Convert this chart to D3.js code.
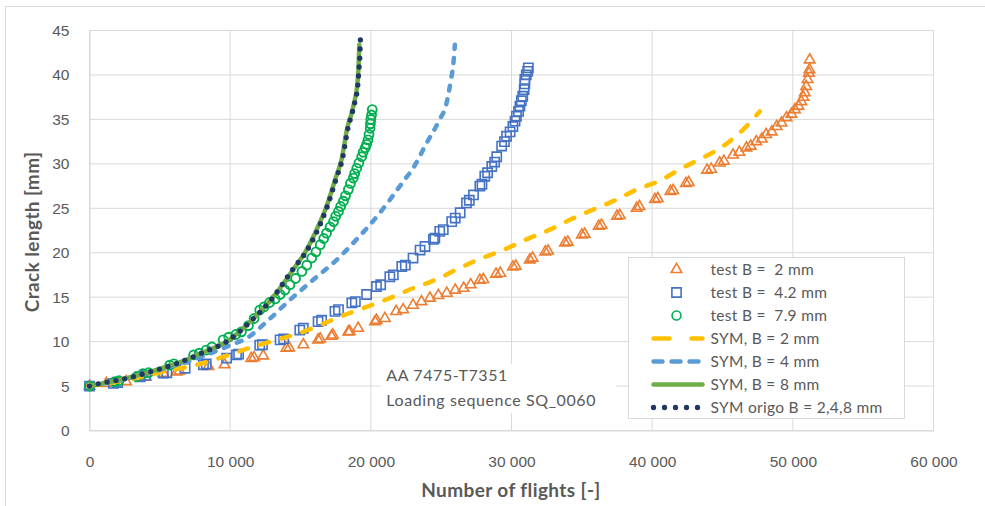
<!DOCTYPE html>
<html>
<head>
<meta charset="utf-8">
<script src="https://cdn.jsdelivr.net/npm/d3@7"></script>
<style>
  body { margin: 0; background: #fff; }
  svg { font-family: Lato, "Open Sans", sans-serif; }
  .grid line { stroke: #d9d9d9; stroke-width: 1; }
  .tick text { fill: #595959; font-size: 15.5px; }
</style>
</head>
<body>
<div id="chart"></div>
<script>
// values: [flights, crack length mm]
var testB2 = [[0,5.0],[1200,5.3],[2600,5.5],[4000,6.0],[5250,6.45],[6200,6.6],[6400,6.7],[8450,7.2],[9600,7.4],
  [11500,8.1],[11700,8.2],[12350,8.4],[14000,9.25],[14200,9.3],[15200,9.65],[16250,10.2],[16400,10.3],[17200,10.6],
  [17300,10.75],[18400,11.1],[18500,11.15],[19100,11.5],[20300,12.25],[20400,12.4],[21000,12.6],[21800,13.4],
  [22300,13.6],[23000,14.1],[23600,14.5],[24200,14.9],[24800,15.2],[25400,15.45],[26000,15.8],[26600,16.0],
  [27100,16.4],[27750,16.9],[28000,17.0],[28900,17.6],[29200,17.7],[30100,18.4],[30300,18.5],[31300,19.2],
  [31500,19.4],[32400,20.1],[32600,20.2],[33800,21.1],[34000,21.2],[35000,22.0],[35200,22.1],[36200,23.0],
  [36400,23.1],[37500,24.1],[37700,24.2],[38900,25.0],[39100,25.2],[40200,26.0],[40400,26.1],[41300,26.9],
  [41500,27.0],[42400,27.8],[42600,27.9],[43900,29.3],[44200,29.4],[44800,30.1],[45100,30.3],[45750,31.0],
  [46200,31.3],[46700,31.8],[47000,32.0],[47400,32.5],[47800,32.8],[48100,33.3],[48500,33.6],[48850,34.2],
  [49200,34.6],[49550,35.2],[49900,35.6],[50150,36.1],[50400,36.5],[50600,37.0],[50750,37.5],[50850,38.0],
  [50950,38.7],[51050,39.5],[51150,40.2],[51180,40.6],[51200,41.7]];

var testB42 = [[0,5.0],[1700,5.3],[2000,5.4],[3600,6.05],[4000,6.2],[5250,6.45],[5500,6.5],[6800,7.0],[8100,7.4],
  [8300,7.5],[9750,8.15],[10450,8.5],[10600,8.6],[12100,9.6],[12300,9.65],[13550,10.2],[13800,10.3],[14950,11.3],
  [15200,11.5],[16250,12.25],[16500,12.4],[17450,13.4],[17700,13.6],[18650,14.35],[18900,14.5],[19700,15.3],
  [20400,16.2],[20700,16.4],[21350,17.3],[21600,17.5],[22200,18.45],[22450,18.6],[23000,19.4],[23500,20.3],
  [23850,20.7],[24450,21.5],[24550,21.65],[24900,22.4],[25150,22.6],[25750,23.5],[26000,23.9],[26350,24.5],
  [26800,25.6],[27000,25.9],[27300,26.5],[27750,27.5],[27900,27.7],[28100,28.6],[28300,29.0],[28600,29.7],
  [28800,30.2],[28950,30.8],[29300,32.0],[29500,32.5],[29650,33.1],[29900,33.6],[30100,34.2],[30250,34.8],
  [30350,35.35],[30500,35.9],[30600,36.5],[30700,37.1],[30800,37.6],[30900,38.35],[30950,39.0],[30950,39.5],
  [31050,40.0],[31150,40.4],[31200,40.8]];

var testB79 = [[0,5.0],[1800,5.5],[2100,5.6],[3350,6.05],[3800,6.4],[4200,6.5],[5700,7.35],[6000,7.5],[7400,8.5],
  [7800,8.7],[8300,9.05],[8700,9.4],[9500,10.2],[9900,10.5],[10400,10.8],[10800,11.1],[11300,11.8],[11700,12.6],
  [12100,13.55],[12400,13.9],[12800,14.4],[13200,14.8],[13550,15.3],[13900,15.8],[14250,16.4],[14650,17.1],
  [15100,17.9],[15450,18.6],[15800,19.4],[16100,20.1],[16400,20.9],[16650,21.6],[16850,22.2],[17100,22.9],
  [17350,23.5],[17500,24.1],[17700,24.65],[17850,25.2],[18050,25.8],[18200,26.4],[18400,27.1],[18550,27.8],
  [18750,28.4],[18850,28.9],[19000,29.5],[19150,30.1],[19350,30.8],[19450,31.3],[19600,31.8],[19700,32.2],
  [19800,32.7],[19870,33.3],[19950,34.0],[19970,34.5],[20000,35.0],[20050,35.5],[20100,36.1]];

var symB2 = [[0,5],[2000,5.5],[4000,6.15],[5800,6.8],[7400,7.3],[9150,8.1],[11000,9.1],[13100,10.1],[15200,11.1],
  [16600,12.0],[18040,12.95],[19700,13.9],[21360,14.9],[23000,16.0],[24680,17.0],[26210,18.2],[27750,19.3],
  [29410,20.3],[31070,21.5],[32730,22.6],[34150,23.7],[35800,24.85],[37230,25.8],[38890,27.1],[40670,28.2],
  [42090,29.5],[43620,30.7],[45050,32.0],[46470,33.85],[47650,35.9]];

var symB4 = [[0,5],[2000,5.6],[4000,6.4],[6000,7.3],[8000,8.3],[10000,9.6],[11200,10.4],[12600,12.25],
  [14250,14.7],[15900,16.95],[17570,19.2],[18990,21.5],[20650,24.5],[22300,28.0],[23000,29.5],[23970,32.35],
  [24900,35.0],[25340,36.55],[25700,39.5],[25850,41.0],[25975,43.4]];

var symB8 = [[0,5],[2000,5.65],[4300,6.6],[6300,7.6],[8100,8.8],[9750,10],[11400,12.2],[13060,15],[14480,18.1],
  [15350,20.1],[16250,22.95],[16850,25.2],[17500,28.4],[17920,30.5],[18350,34.2],[18600,35.5],[18830,37.0],
  [19030,38.8],[19130,41.0],[19180,43.4]];

var symOrigo = [[0,5],[750,5.3],[2000,5.65],[3000,6.0],[4300,6.6],[6300,7.6],[8100,8.8],[9750,10],[11400,12.2],
  [13060,15],[14480,18.2],[15400,20.1],[16330,22.95],[16900,25.2],[17550,28.4],[17970,30.5],[18400,34.2],
  [18630,35.5],[18870,37.0],[19070,38.8],[19170,41.0],[19220,42.1],[19250,43.6],[19280,44.9]];

var xTicks = [0, 10000, 20000, 30000, 40000, 50000, 60000];
var yTicks = [0, 5, 10, 15, 20, 25, 30, 35, 40, 45];
var legendNames = ["test B =  2 mm", "test B =  4.2 mm", "test B =  7.9 mm", "SYM, B = 2 mm",
  "SYM, B = 4 mm", "SYM, B = 8 mm", "SYM origo B = 2,4,8 mm"];
var noteLines = ["AA 7475-T7351", "Loading sequence SQ_0060"];

var margin = {top: 30.5, left: 89.5},
    width = 844,
    height = 400;

var svg = d3.select("#chart").append("svg")
    .attr("width", 985)
    .attr("height", 506);

// outer chart border
svg.append("rect")
    .attr("x", 5.5).attr("y", 6.5)
    .attr("width", 1000).attr("height", 520)
    .attr("fill", "none").attr("stroke", "#d9d9d9");

var g = svg.append("g")
    .attr("transform", "translate(" + margin.left + "," + margin.top + ")");

var x = d3.scaleLinear().domain([0, 60000]).range([0, width]);
var y = d3.scaleLinear().domain([0, 45]).range([height, 0]);

// gridlines
g.append("g").attr("class", "grid")
  .selectAll("line").data(yTicks).enter().append("line")
    .attr("x1", 0).attr("x2", width)
    .attr("y1", function(d) { return y(d); }).attr("y2", function(d) { return y(d); });
g.append("g").attr("class", "grid")
  .selectAll("line").data(xTicks).enter().append("line")
    .attr("y1", 0).attr("y2", height)
    .attr("x1", function(d) { return x(d); }).attr("x2", function(d) { return x(d); });

var fmt = function(d) { return d3.format(",")(d).replace(/,/g, " "); };

var xAxis = g.append("g")
    .attr("transform", "translate(0," + height + ")")
    .call(d3.axisBottom(x).tickValues(xTicks).tickFormat(fmt).tickSize(0).tickPadding(25));
xAxis.select(".domain").attr("stroke", "#d9d9d9");

var yAxis = g.append("g")
    .call(d3.axisLeft(y).tickValues(yTicks).tickSize(0).tickPadding(20));
yAxis.select(".domain").attr("stroke", "#d9d9d9");

// axis titles
svg.append("text")
    .attr("transform", "translate(39,232) rotate(-90)")
    .attr("text-anchor", "middle")
    .attr("fill", "#595959")
    .style("font-size", "19px").style("font-weight", "bold")
    .style("letter-spacing", "0.4px")
    .text("Crack length [mm]");
svg.append("text")
    .attr("x", 511).attr("y", 497)
    .attr("text-anchor", "middle")
    .attr("fill", "#595959")
    .style("font-size", "19px").style("font-weight", "bold")
    .style("letter-spacing", "0.4px")
    .text("Number of flights [-]");

// note box
var note = g.append("g");
note.append("rect")
    .attr("x", x(20700)).attr("y", y(7.5))
    .attr("width", x(16700)).attr("height", y(2) - y(7.5))
    .attr("fill", "#fff");
note.selectAll("text").data(noteLines).enter().append("text")
    .attr("x", x(21100))
    .attr("y", function(d, i) { return y(5.6) + i * 25; })
    .attr("fill", "#595959")
    .style("font-size", "16px")
    .style("letter-spacing", "0.6px")
    .text(function(d) { return d; });

var line = d3.line()
    .x(function(d) { return x(d[0]); })
    .y(function(d) { return y(d[1]); })
    .curve(d3.curveMonotoneX);

var tri = d3.symbol().type(d3.symbolTriangle).size(48)();
var sq = d3.symbol().type(d3.symbolSquare).size(85)();
var circ = d3.symbol().type(d3.symbolCircle).size(62)();

var markerSeries = [
  {data: testB2, path: tri, color: "#ed7d31", sw: 1.6},
  {data: testB42, path: sq, color: "#4472c4", sw: 1.6},
  {data: testB79, path: circ, color: "#00b050", sw: 1.9}
];
var lineSeries = [
  {data: symB2, color: "#ffc000", width: 4.5, dash: "9,13"},
  {data: symB4, color: "#5b9bd5", width: 4.5, dash: "5,9"},
  {data: symB8, color: "#70ad47", width: 4.5, dash: null},
  {data: symOrigo, color: "#203864", width: 5.3, dash: "0,9"}
];

markerSeries.forEach(function(s) {
  g.append("g").selectAll("path").data(s.data).enter().append("path")
      .attr("d", s.path)
      .attr("transform", function(d) { return "translate(" + x(d[0]) + "," + y(d[1]) + ")"; })
      .attr("fill", "none")
      .attr("stroke", s.color)
      .attr("stroke-width", s.sw);
});

lineSeries.forEach(function(s) {
  g.append("path")
      .datum(s.data)
      .attr("d", line)
      .attr("fill", "none")
      .attr("stroke", s.color)
      .attr("stroke-width", s.width)
      .attr("stroke-linecap", "round")
      .attr("stroke-dasharray", s.dash);
});

// legend
var legend = svg.append("g").attr("transform", "translate(628.5,257.5)");
legend.append("rect")
    .attr("width", 276).attr("height", 161)
    .attr("fill", "#fff").attr("stroke", "#d9d9d9");

var items = legend.selectAll(".legend").data(legendNames).enter().append("g")
    .attr("class", "legend")
    .attr("transform", function(d, i) { return "translate(0," + (12 + i * 23) + ")"; });

items.append("text")
    .attr("x", 82).attr("y", 0).attr("dy", "0.35em")
    .attr("fill", "#595959")
    .style("font-size", "15.5px")
    .style("white-space", "pre")
    .style("letter-spacing", "0.3px")
    .text(function(d) { return d; });

items.filter(function(d, i) { return i < 3; }).append("path")
    .attr("d", function(d, i) { return markerSeries[i].path; })
    .attr("transform", "translate(48,0)")
    .attr("fill", "none")
    .attr("stroke", function(d, i) { return markerSeries[i].color; })
    .attr("stroke-width", 1.6);

items.filter(function(d, i) { return i >= 3; }).append("line")
    .attr("x1", 25).attr("x2", 74)
    .attr("stroke", function(d, i) { return lineSeries[i].color; })
    .attr("stroke-width", function(d, i) { return lineSeries[i].width; })
    .attr("stroke-linecap", "round")
    .attr("stroke-dasharray", function(d, i) { return ["16,22", "9,9", null, "0,11"][i]; });
</script>
</body>
</html>
